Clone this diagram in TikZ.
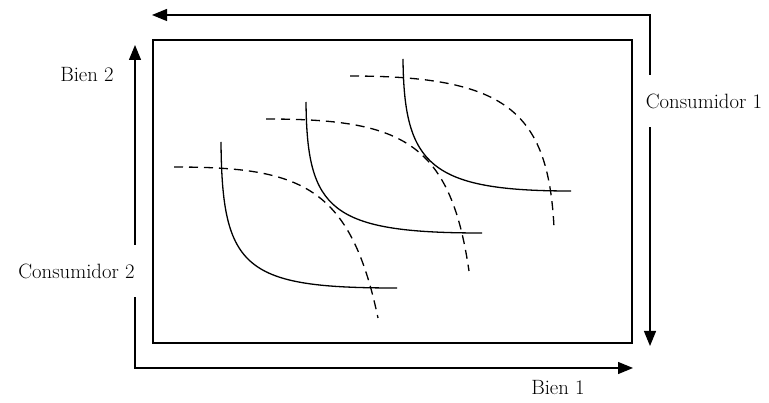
\documentclass[tikz,border=0pt]{standalone}
\usetikzlibrary{arrows.meta}
\begin{document}
\begin{tikzpicture}[x=1pt,y=-1pt,
  frame/.style={line width=1.2pt},
  biarrow/.style={line width=1.2pt,{Triangle[length=15pt,width=12pt]}-{Triangle[length=15pt,width=12pt]}},
  indiff/.style={line width=1.3pt},
  indiffb/.style={line width=1.3pt,dash pattern=on 9pt off 6pt},
  lbl/.style={font=\fontsize{20.7}{25}\selectfont,inner sep=0pt},
  lblw/.style={lbl,fill=white,minimum height=52pt,inner xsep=3pt}
]
\useasboundingbox (0,0) rectangle (769,403);
% box
\draw[frame] (153,40) rectangle (632,343);
% consumer 1 axes
\coordinate (t1) at (152,15);
\coordinate (c1) at (650,15);
\coordinate (b1) at (650,346);
\draw[biarrow] (t1) -- (c1) -- (b1);
% consumer 2 axes
\coordinate (t2) at (135,45);
\coordinate (o2) at (135,368);
\coordinate (r2) at (633,368);
\draw[biarrow] (t2) -- (o2) -- (r2);
% indifference curves consumer 2 (solid)
\coordinate (s1a) at (221,142); \coordinate (s1b) at (397,288);
\coordinate (s2a) at (306,102); \coordinate (s2b) at (482,233);
\coordinate (s3a) at (403,59);  \coordinate (s3b) at (571,191);
\draw[indiff] (s1a) .. controls (222,270) and (245,288) .. (s1b);
\draw[indiff] (s2a) .. controls (307,210) and (330,233) .. (s2b);
\draw[indiff] (s3a) .. controls (404,165) and (430,191) .. (s3b);
% indifference curves consumer 1 (dashed)
\coordinate (d1a) at (174,167); \coordinate (d1b) at (378,318);
\coordinate (d2a) at (266,119); \coordinate (d2b) at (469,271);
\coordinate (d3a) at (350,76);  \coordinate (d3b) at (554,227);
\draw[indiffb] (d1a) .. controls (300,167) and (350,185) .. (d1b);
\draw[indiffb] (d2a) .. controls (400,119) and (450,140) .. (d2b);
\draw[indiffb] (d3a) .. controls (505,76) and (548,110) .. (d3b);
% labels
\node[lblw] (cons1) at (704,101) {Consumidor 1};
\node[lblw] (cons2) at (76.5,271) {Consumidor 2};
\node[lbl] (bien2) at (87,75) {Bien 2};
\node[lbl] (bien1) at (558,388) {Bien 1};
\end{tikzpicture}
\end{document}
